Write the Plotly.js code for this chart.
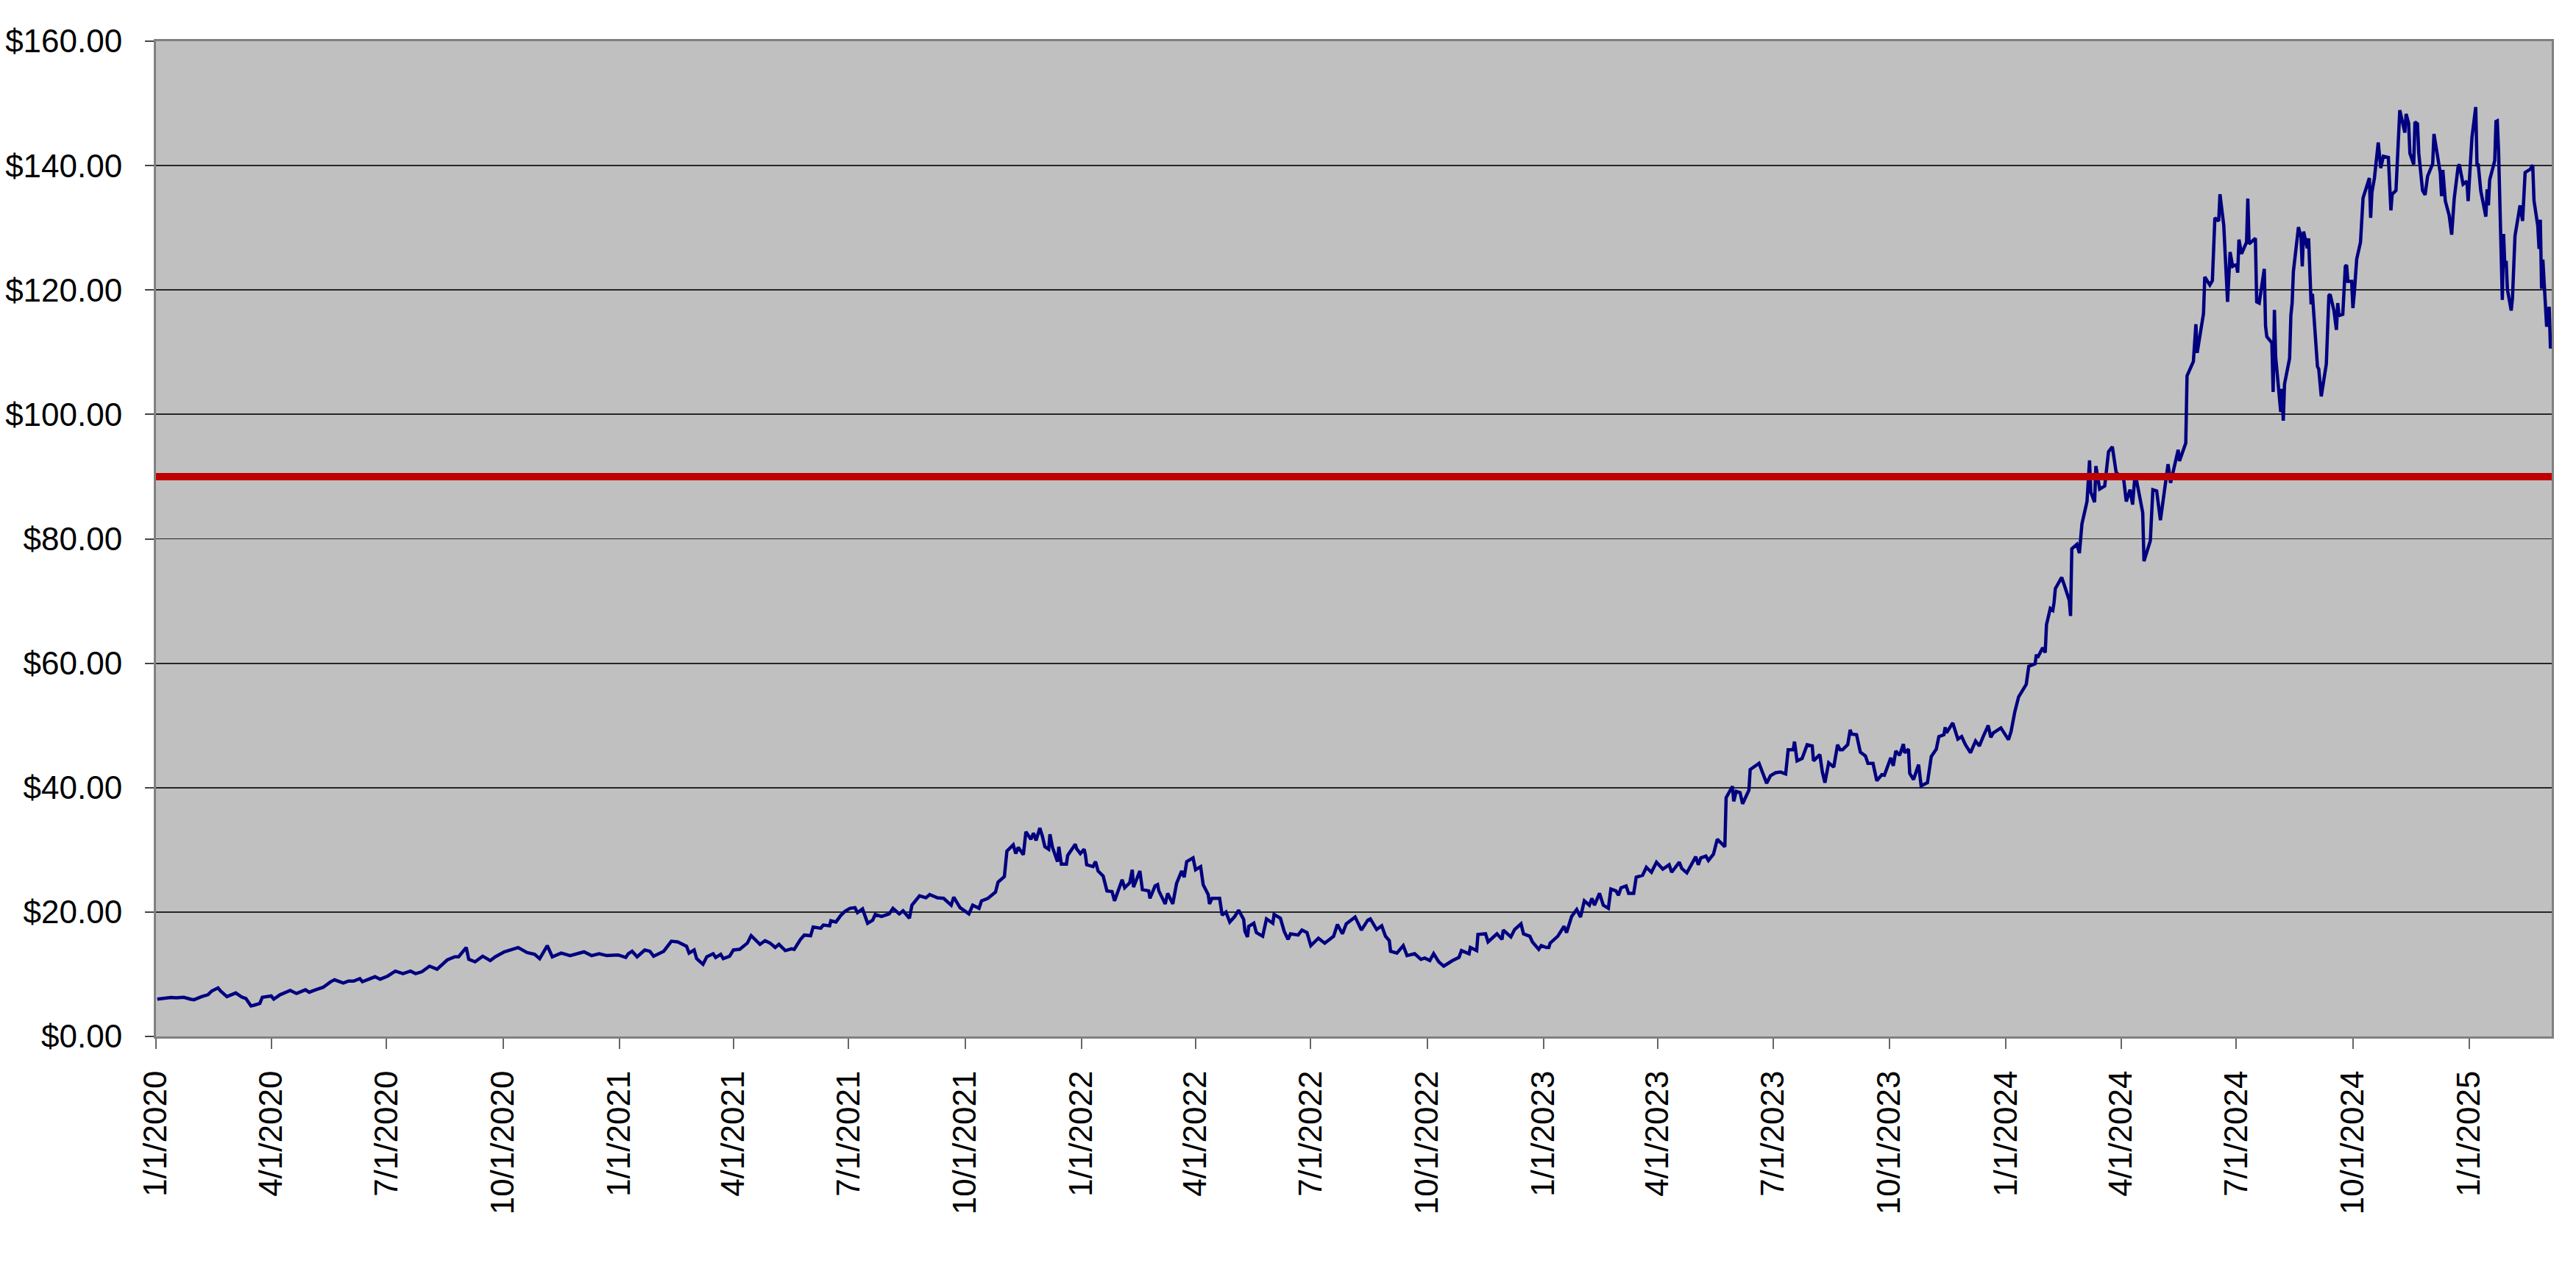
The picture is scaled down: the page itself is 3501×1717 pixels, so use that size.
<!DOCTYPE html>
<html>
<head>
<meta charset="utf-8">
<script src="https://cdn.plot.ly/plotly-3.0.1.min.js"></script>
<style>
  html, body { margin: 0; padding: 0; background: #ffffff; }
  #chart { width: 3501px; height: 1717px; }
</style>
</head>
<body>
<div id="chart"></div>
<script>
// closing prices, one array pair per year (dates are MM-DD)
const days2020 = [
  "01-02","01-08","01-13","01-17","01-23","01-28","01-31","02-06","02-11","02-14",
  "02-19","02-21","02-26","03-04","03-09","03-12","03-16","03-18","03-23","03-25",
  "04-01","04-03","04-08","04-16","04-21","04-28","05-01","05-06","05-12","05-18",
  "05-21","05-28","06-01","06-05","06-10","06-12","06-17","06-22","06-26","07-02",
  "07-08","07-14","07-20","07-24","07-29","08-04","08-10","08-14","08-18","08-24",
  "08-27","09-02","09-04","09-09","09-15","09-21","09-25","10-02","10-07","10-13",
  "10-20","10-26","10-30","11-05","11-09","11-16","11-23","11-30","12-04","12-10",
  "12-16","12-22","12-28","12-31"
];
const close2020 = [
  6.0,6.1,6.27,6.2,6.3,6.0,5.9,6.4,6.7,7.3,
  7.8,7.3,6.4,7.0,6.3,6.1,4.9,5.0,5.3,6.3,
  6.5,6.0,6.7,7.4,6.9,7.5,7.1,7.5,7.9,8.8,
  9.1,8.6,8.9,8.9,9.3,8.8,9.2,9.6,9.2,9.7,
  10.5,10.1,10.5,10.1,10.4,11.3,10.8,11.5,12.3,12.8,
  12.8,14.3,12.4,12.0,12.9,12.2,12.8,13.6,13.9,14.3,
  13.5,13.2,12.5,14.6,12.8,13.4,13.0,13.4,13.6,13.0,
  13.3,13.0,13.0,13.1
];

const days2021 = [
  "01-06","01-08","01-11","01-15","01-21","01-25","01-28","02-01","02-05","02-11",
  "02-16","02-23","02-25","03-01","03-03","03-08","03-11","03-16","03-18","03-22",
  "03-24","03-29","04-01","04-06","04-12","04-15","04-19","04-22","04-26","04-30",
  "05-04","05-07","05-12","05-17","05-19","05-24","05-27","06-01","06-03","06-09",
  "06-11","06-16","06-17","06-21","06-25","06-28","07-02","07-06","07-08","07-12",
  "07-16","07-20","07-22","07-27","08-02","08-05","08-10","08-13","08-18","08-20",
  "08-26","08-31","09-03","09-09","09-14","09-20","09-22","09-27","10-04","10-07",
  "10-12","10-14","10-19","10-25","10-27","11-01","11-03","11-08","11-10","11-12",
  "11-16","11-18","11-22","11-24","11-26","11-29","12-01","12-03","12-06","12-07",
  "12-09","12-13","12-14","12-16","12-20","12-21","12-27","12-28","12-31"
];
const close2021 = [
  12.7,13.3,13.7,12.8,13.9,13.7,12.9,13.3,13.7,15.3,
  15.2,14.5,13.4,13.9,12.5,11.6,12.8,13.3,12.7,13.2,
  12.5,12.9,13.9,14.0,15.0,16.2,15.4,14.8,15.4,15.0,
  14.3,14.8,13.8,14.1,14.0,15.6,16.3,16.2,17.6,17.4,
  17.9,17.8,18.6,18.4,19.5,20.1,20.6,20.7,19.9,20.5,
  18.2,18.7,19.6,19.3,19.7,20.6,19.7,20.2,19.0,21.1,
  22.6,22.3,22.8,22.3,22.2,21.1,22.4,20.7,19.7,21.1,
  20.6,21.8,22.2,23.2,24.8,25.7,29.8,30.8,29.4,30.4,
  29.2,32.9,31.7,32.7,31.5,33.5,32.2,30.5,30.1,32.5,
  30.4,28.1,30.5,27.7,27.7,29.1,30.9,30.2,29.4
];

const days2022 = [
  "01-03","01-04","01-05","01-10","01-12","01-14","01-18","01-21","01-25","01-27",
  "02-02","02-04","02-08","02-10","02-11","02-16","02-18","02-23","02-24","02-28",
  "03-02","03-03","03-08","03-10","03-14","03-17","03-21","03-23","03-25","03-30",
  "04-01","04-05","04-07","04-11","04-12","04-14","04-20","04-22","04-25","04-28",
  "05-02","05-05","05-09","05-10","05-12","05-13","05-17","05-19","05-24","05-27",
  "06-01","06-02","06-07","06-10","06-13","06-15","06-21","06-24","06-28","07-01",
  "07-07","07-12","07-19","07-22","07-26","07-29","08-05","08-10","08-15","08-17",
  "08-22","08-26","08-29","09-01","09-02","09-07","09-12","09-15","09-21","09-26",
  "09-29","10-03","10-06","10-10","10-14","10-21","10-26","10-28","11-03","11-04",
  "11-09","11-10","11-16","11-18","11-25","11-29","11-30","12-06","12-09","12-14",
  "12-16","12-21","12-23","12-28","12-30"
];
const close2022 = [
  30.1,29.2,27.6,27.3,28.1,26.6,25.8,23.4,23.3,21.8,
  25.2,23.9,24.7,26.8,24.0,26.6,23.6,23.4,22.2,24.2,
  24.4,23.4,21.3,23.0,21.3,24.6,26.6,25.6,28.1,28.7,
  26.8,27.3,24.4,22.8,21.3,22.2,22.2,19.5,20.0,18.4,
  19.3,20.3,18.8,16.9,16.0,17.7,18.2,16.7,16.1,18.9,
  18.2,19.6,19.0,16.9,15.6,16.5,16.3,17.1,16.7,14.6,
  15.8,15.0,16.1,18.0,16.5,18.1,19.2,17.1,18.7,18.9,
  17.2,17.8,16.1,15.4,13.7,13.4,14.6,13.0,13.3,12.4,
  12.6,12.2,13.3,12.0,11.3,12.2,12.7,13.8,13.3,14.3,
  13.8,16.4,16.5,15.2,16.5,15.6,17.1,16.0,17.2,18.1,
  16.5,16.1,15.2,14.0,14.6
];

const days2023 = [
  "01-03","01-05","01-06","01-12","01-17","01-19","01-23","01-27","01-30","02-02",
  "02-06","02-08","02-10","02-14","02-17","02-21","02-23","02-27","03-01","03-03",
  "03-07","03-09","03-13","03-15","03-20","03-23","03-27","03-31","04-05","04-10",
  "04-12","04-18","04-20","04-24","05-01","05-03","05-05","05-09","05-11","05-15",
  "05-18","05-24","05-25","05-30","05-31","06-02","06-05","06-07","06-12","06-13",
  "06-20","06-26","06-29","07-03","07-07","07-11","07-13","07-17","07-18","07-20",
  "07-24","07-26","07-28","08-01","08-02","08-07","08-09","08-11","08-14","08-18",
  "08-21","08-23","08-25","08-29","08-31","09-01","09-05","09-08","09-12","09-14",
  "09-18","09-21","09-25","09-27","10-02","10-04","10-06","10-09","10-12","10-13",
  "10-16","10-17","10-20","10-24","10-26","10-31","11-03","11-07","11-09","11-13",
  "11-14","11-15","11-20","11-24","11-27","11-30","12-04","12-08","12-11","12-14",
  "12-18","12-20","12-22","12-28"
];
const close2023 = [
  14.3,14.3,15.0,16.1,17.7,16.7,19.3,20.4,19.2,21.8,
  21.1,22.2,21.1,23.0,21.1,20.6,23.7,23.4,22.7,23.9,
  24.2,23.0,23.0,25.6,25.9,27.2,26.4,28.0,26.9,27.6,
  26.4,28.0,27.0,26.3,28.9,27.6,28.7,29.0,28.3,29.3,
  31.7,30.5,38.4,40.2,37.8,39.4,39.2,37.4,39.6,42.9,
  43.9,40.7,41.9,42.4,42.5,42.2,46.1,46.1,47.4,44.3,
  44.7,45.7,46.9,46.7,44.3,45.3,42.5,40.8,44.0,43.3,
  46.9,46.1,46.1,46.9,49.3,48.6,48.5,45.7,45.1,43.9,
  43.9,41.1,42.1,42.0,44.8,43.5,45.9,45.2,47.0,45.6,
  46.2,42.3,41.3,43.7,40.3,40.8,45.0,46.2,48.2,48.5,
  49.7,48.8,50.4,47.8,48.2,46.9,45.6,47.5,46.7,48.2,
  50.0,48.1,48.8,49.6
];

const days2024 = [
  "01-03","01-05","01-08","01-11","01-17","01-19","01-24","01-25","01-26","01-30",
  "02-01","02-02","02-05","02-07","02-08","02-09","02-14","02-16","02-20","02-21",
  "02-22","02-26","02-28","03-01","03-05","03-07","03-08","03-11","03-12","03-15",
  "03-19","03-22","03-25","03-28","04-03","04-05","04-08","04-10","04-12","04-15",
  "04-16","04-18","04-19","04-24","04-26","04-29","05-02","05-06","05-08","05-10",
  "05-16","05-17","05-22","05-23","05-28","05-30","05-31","06-05","06-06","06-10",
  "06-12","06-14","06-17","06-18","06-21","06-24","06-26","06-28","07-01","07-02",
  "07-03","07-05","07-09","07-10","07-11","07-16","07-17","07-19","07-23","07-24",
  "07-25","07-29","07-30","07-31","08-01","08-05","08-06","08-07","08-08","08-12",
  "08-13","08-14","08-15","08-19","08-21","08-22","08-23","08-26","08-27","08-29",
  "08-30","09-03","09-04","09-06","09-10","09-12","09-13","09-16","09-18","09-19",
  "09-20","09-23","09-25","09-26","09-27","09-30","10-01","10-02","10-04","10-07",
  "10-08","10-09","10-14","10-15","10-16","10-17","10-18","10-21","10-23","10-25",
  "10-29","10-31","11-01","11-04","11-06","11-07","11-11","11-12","11-14","11-15",
  "11-18","11-19","11-21","11-22","11-25","11-27","11-29","12-03","12-04","12-06",
  "12-09","12-10","12-11","12-13","12-16","12-18","12-20","12-23","12-24","12-27",
  "12-30","12-31"
];
const close2024 = [
  47.7,49.0,52.2,54.6,56.6,59.5,59.9,61.4,60.9,62.5,
  61.7,66.2,68.8,68.5,69.8,72.0,73.8,72.6,70.1,67.6,
  78.4,79.1,77.7,82.4,86.0,92.6,87.5,85.9,91.7,88.0,
  88.5,94.0,94.8,90.7,89.5,86.0,87.9,85.5,90.5,87.4,
  86.2,84.2,76.4,79.7,87.9,87.7,83.0,89.3,92.0,89.0,
  94.3,92.5,95.4,106.2,108.5,114.5,109.9,116.2,122.1,120.8,
  121.5,131.6,131.1,135.4,130.4,118.1,126.1,123.8,124.1,122.8,
  128.1,125.8,127.7,134.7,127.4,128.3,118.1,117.9,123.4,114.2,
  112.5,111.5,103.6,116.8,109.2,100.4,104.1,99.0,104.9,109.0,
  115.9,117.9,123.0,130.1,128.5,123.8,129.4,126.7,128.3,117.7,
  119.4,107.7,107.3,102.9,108.1,119.1,119.3,116.7,113.6,117.9,
  115.9,116.1,123.8,124.0,121.4,121.4,117.1,119.3,125.0,127.7,
  132.8,134.8,138.0,131.6,135.7,136.9,138.0,143.7,139.6,141.5,
  141.3,132.8,135.4,136.0,145.6,148.9,145.3,148.3,146.8,142.0,
  140.2,147.0,146.7,142.0,136.0,135.3,138.3,140.3,145.1,142.4,
  138.8,135.1,139.3,134.3,132.0,128.9,134.7,139.7,140.2,137.0,
  137.5,134.3
];

const days2025 = [
  "01-03","01-06","01-07","01-08","01-10","01-14","01-15","01-16","01-17","01-21",
  "01-22","01-23","01-24","01-27","01-28","01-29","01-30","01-31","02-03","02-04",
  "02-05","02-06","02-10","02-12","02-14","02-18","02-20","02-21","02-24","02-25",
  "02-26","02-27","02-28","03-03","03-05","03-06","03-07"
];
const close2025 = [
  144.5,149.4,140.1,140.1,135.9,131.8,136.2,133.6,137.7,140.8,
  147.1,147.2,142.6,118.4,129.0,123.7,124.7,120.1,116.7,118.7,
  124.8,128.7,133.6,131.1,138.9,139.4,140.1,134.4,130.3,126.6,
  131.3,120.2,124.9,114.1,117.3,110.6,112.7
];

const thresholdValue = 90;
const axisStart = "2020-01-01";
const axisEnd = "2025-03-07";

const yearBlocks = [
  [2020, days2020, close2020],
  [2021, days2021, close2021],
  [2022, days2022, close2022],
  [2023, days2023, close2023],
  [2024, days2024, close2024],
  [2025, days2025, close2025]
];

const dates = [];
const prices = [];
yearBlocks.forEach(([year, days, values]) => {
  days.forEach((d, i) => {
    dates.push(year + "-" + d);
    prices.push(values[i]);
  });
});

const priceTrace = {
  type: "scatter",
  mode: "lines",
  x: dates,
  y: prices,
  line: { color: "#000080", width: 4.5 },
  hoverinfo: "skip"
};

// level line drawn on top of the price series
const levelTrace = {
  type: "scatter",
  mode: "lines",
  x: [axisStart, axisEnd],
  y: [thresholdValue, thresholdValue],
  line: { color: "#C00000", width: 10 },
  cliponaxis: false,
  hoverinfo: "skip"
};

const axisFont = { family: "Liberation Sans, Arial, sans-serif", size: 44, color: "#000000" };

const layout = {
  width: 3501,
  height: 1717,
  showlegend: false,
  paper_bgcolor: "#ffffff",
  plot_bgcolor: "#C0C0C0",
  margin: { l: 212, r: 33, t: 56, b: 308, pad: 0 },
  font: axisFont,
  xaxis: {
    type: "date",
    range: [axisStart, axisEnd],
    tick0: "2020-01-01",
    dtick: "M3",
    tickformat: "%-m/%-d/%Y",
    tickangle: -90,
    tickfont: axisFont,
    ticks: "outside",
    ticklen: 14,
    tickwidth: 2,
    tickcolor: "#666666",
    ticklabelstandoff: 12,
    showgrid: false,
    zeroline: false,
    showline: true,
    mirror: true,
    linecolor: "#808080",
    linewidth: 3
  },
  yaxis: {
    range: [0, 160],
    dtick: 20,
    tickformat: "$.2f",
    tickfont: axisFont,
    ticks: "outside",
    ticklen: 12,
    tickwidth: 2,
    tickcolor: "#444444",
    ticklabelstandoff: 22,
    showgrid: true,
    gridcolor: "#262626",
    gridwidth: 1.8,
    zeroline: false,
    showline: true,
    mirror: true,
    linecolor: "#808080",
    linewidth: 3
  }
};

Plotly.newPlot("chart", [priceTrace, levelTrace], layout, { staticPlot: true, displayModeBar: false });
</script>
</body>
</html>
